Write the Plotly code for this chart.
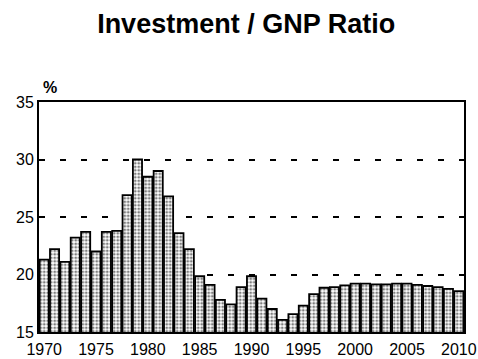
import plotly.graph_objects as go

# Gross investment as a share of GNP, annual, percent
years = list(range(1970, 2011))
ratio = [
    21.3, 22.2, 21.1, 23.2, 23.7, 22.0, 23.7, 23.8, 26.9, 30.0,
    28.5, 29.0, 26.8, 23.6, 22.2, 19.85, 19.1, 17.8, 17.4, 18.9,
    19.85, 17.9, 17.0, 16.05, 16.55, 17.3, 18.3, 18.85, 18.9, 19.05,
    19.2, 19.2, 19.15, 19.15, 19.2, 19.2, 19.1, 19.0, 18.9, 18.75,
    18.55,
]
x_ticks = [1970, 1975, 1980, 1985, 1990, 1995, 2000, 2005, 2010]
y_ticks = [15, 20, 25, 30, 35]

FONT = "Liberation Sans, Arial, Helvetica, sans-serif"

fig = go.Figure(
    go.Bar(
        x=years,
        y=ratio,
        base=0,
        marker=dict(
            color="white",
            line=dict(color="black", width=1.8),
            pattern=dict(shape=".", fgcolor="black", bgcolor="white",
                         size=3.5, solidity=0.5),
        ),
        hoverinfo="x+y",
    )
)

fig.update_layout(
    width=478,
    height=359,
    margin=dict(l=39, r=14, t=102, b=27, autoexpand=False),
    paper_bgcolor="white",
    plot_bgcolor="white",
    showlegend=False,
    bargap=0.12,
    font=dict(family=FONT, size=15, color="black"),
    title=dict(
        text="<b>Investment / GNP Ratio</b>",
        font=dict(family=FONT, size=27, color="black"),
        x=0.515, xanchor="center",
        y=0.935, yanchor="middle",
        automargin=False,
    ),
    xaxis=dict(
        range=[1969.5, 2010.5],
        tickvals=x_ticks,
        ticktext=[str(v) for v in x_ticks],
        showgrid=False,
        showline=True, mirror=True, linecolor="black", linewidth=2,
        ticks="", zeroline=False,
        automargin=False,
        ticklabelstandoff=2,
        tickfont=dict(size=16),
    ),
    yaxis=dict(
        range=[15, 35],
        tickvals=y_ticks,
        showgrid=True, gridcolor="black", gridwidth=1.5,
        griddash="6px,15px",
        showline=True, mirror=True, linecolor="black", linewidth=2,
        ticks="", zeroline=False,
        automargin=False,
        tickfont=dict(size=16),
    ),
    annotations=[
        dict(
            text="<b>%</b>", xref="paper", yref="paper",
            x=0.0, y=1.0, xanchor="left", yanchor="bottom",
            xshift=2, yshift=4, showarrow=False,
            font=dict(family=FONT, size=16, color="black"),
        )
    ],
)

fig.write_html("out.html")
